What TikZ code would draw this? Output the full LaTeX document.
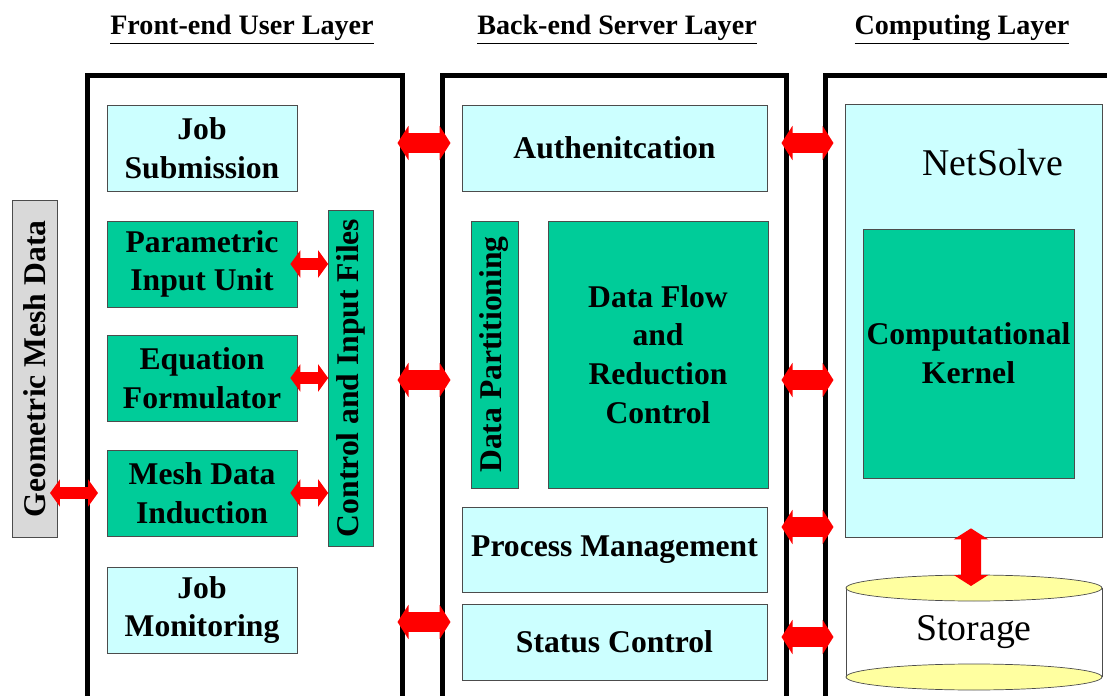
\documentclass[tikz,border=0pt]{standalone}
\usepackage{fontspec}
\setmainfont{Liberation Serif}
\usetikzlibrary{arrows.meta}
\definecolor{liteblue}{RGB}{204,255,255}
\definecolor{deepgreen}{RGB}{0,204,153}
\definecolor{meshgray}{RGB}{217,217,217}
\definecolor{storyellow}{RGB}{255,255,160}

\begin{document}
\begin{tikzpicture}[x=0.02cm,y=-0.02cm]
\def\u{0.02cm}
\tikzset{
  size/.style 2 args={minimum width=#1*\u,minimum height=#2*\u},
  boxfont/.style={font=\bfseries\fontsize{18}{22}\selectfont},
  lite/.style={draw=black!70,fill=liteblue,inner sep=0pt,align=center,boxfont},
  deep/.style={draw=black!70,fill=deepgreen,inner sep=0pt,align=center,boxfont},
  layer/.style={draw=black,line width=0.1cm,inner sep=0pt},
  hdr/.style={font=\bfseries\fontsize{16}{19}\selectfont},
  plain/.style={font=\fontsize{21.5}{26}\selectfont},
  fatarrow/.style={draw=red,line width=0.4cm,
    {Triangle[width=0.68cm,length=0.22cm]}-{Triangle[width=0.68cm,length=0.22cm]}},
  slimarrow/.style={draw=red,line width=0.24cm,
    {Triangle[width=0.54cm,length=0.2cm]}-{Triangle[width=0.54cm,length=0.2cm]}}
}
\clip (0,0) rectangle (1107,696);

% layer titles
\node[hdr] (hfront) at (242,30) {\underline{Front-end User Layer}};
\node[hdr] (hback) at (617,30) {\underline{Back-end Server Layer}};
\node[hdr] (hcomp) at (962,30) {\underline{Computing Layer}};

% layer frames
\node[layer,size={315}{640}] (front) at (244.5,396) {};
\node[layer,size={344}{640}] (back) at (614,396) {};
\node[layer,size={300}{640}] (comp) at (975,396) {};

% front-end
\node[draw=black!70,fill=meshgray,boxfont,inner sep=0pt,size={337}{45},rotate=90] (geom) at (34.5,369) {Geometric Mesh Data};
\node[lite,size={190}{86}] (jobsub) at (202,148) {Job\\Submission};
\node[deep,size={190}{86}] (param) at (202,264) {Parametric\\Input Unit};
\node[deep,size={190}{86}] (equat) at (202,378) {Equation\\Formulator};
\node[deep,size={190}{86}] (meshind) at (202,493) {Mesh Data\\Induction};
\node[lite,size={190}{86}] (jobmon) at (202,610) {Job\\Monitoring};
\node[deep,size={336}{45},rotate=90] (ctrl) at (351,378) {Control and Input Files};

% back-end
\node[lite,size={305}{86}] (auth) at (614.5,148) {Authenitcation};
\node[deep,size={267}{47},rotate=90] (dpart) at (494.5,354.5) {Data Partitioning};
\node[deep,size={220}{267}] (dflow) at (658,354.5) {Data Flow\\and\\Reduction\\Control};
\node[lite,size={305}{85}] (procman) at (614.5,550) {Process Management};
\node[lite,size={305}{76}] (statctl) at (614.5,642) {Status Control};

% computing
\node[lite,size={257}{433}] (nsolve) at (973.5,320.5) {};
\node[plain] (nslabel) at (993,163) {NetSolve};
\node[deep,size={211}{249}] (kernel) at (968.5,353.5) {Computational\\Kernel};
\draw[black!70] (846,588) -- (846,677);
\draw[black!70] (1102,588) -- (1102,677);
\filldraw[fill=storyellow,draw=black!70] (974,677) ellipse [x radius=128,y radius=13];
\filldraw[fill=storyellow,draw=black!70] (974,588) ellipse [x radius=128,y radius=13];
\node[plain] (storage) at (974,632) {Storage};

% arrows
\coordinate (geomout) at (50,493);
\coordinate (frontin) at (98,493);
\draw[slimarrow] (geomout) -- (frontin);
\foreach \b in {param,equat,meshind}
{
    \draw[slimarrow] ([xshift=-0.14cm]\b.east) -- (\b.east -| ctrl.north);
}
\foreach \y in {143,380,622}
{
    \coordinate (row) at (0,\y);
    \draw[fatarrow] ([xshift=-0.14cm]front.east |- row) -- ([xshift=0.22cm]back.west |- row);
}
\foreach \y in {143,380,527,637}
{
    \coordinate (row) at (0,\y);
    \draw[fatarrow] ([xshift=-0.14cm]back.east |- row) -- ([xshift=0.22cm]comp.west |- row);
}
\coordinate (stortop) at (971,586);
\draw[fatarrow] ([xshift=-0.05cm,yshift=0.18cm]nsolve.south) -- (stortop);
\end{tikzpicture}
\end{document}
